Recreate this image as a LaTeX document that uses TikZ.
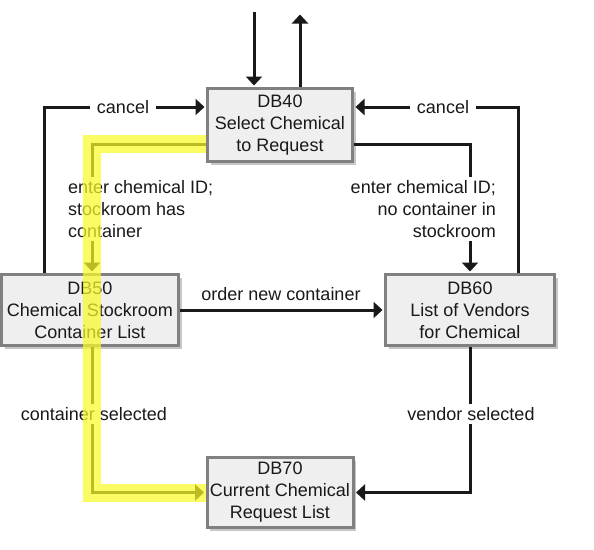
\documentclass[tikz,border=0pt]{standalone}
\usepackage{fontspec}
\setmainfont{Liberation Sans}
\usetikzlibrary{arrows.meta,shadows}
\definecolor{boxgray}{RGB}{128,128,128}
\definecolor{boxfill}{RGB}{239,239,239}
\definecolor{inkblack}{RGB}{25,25,25}
\definecolor{marker}{RGB}{250,250,40}

\begin{document}
\begin{tikzpicture}[x=1pt,y=-1pt,font=\fontsize{18}{22}\selectfont,
	dbbox/.style={draw=boxgray, line width=3pt, fill=boxfill, align=center, inner sep=0pt, text=inkblack,
		drop shadow={shadow xshift=3pt, shadow yshift=-3pt, fill=black!22, opacity=1}},
	flow/.style={draw=inkblack, line width=3pt, shorten >=1.5pt, -{Triangle[length=9pt,width=16pt]}},
	lbl/.style={fill=white, text=inkblack, inner sep=3pt},
	highlight/.style={draw=marker, line width=18pt, opacity=0.72}]
					\useasboundingbox (0,0) rectangle (594,549);
					% screens
					\node[dbbox, minimum width=145pt, minimum height=73pt] (db40) at (280,125) {DB40\\Select Chemical\\to Request};
					\node[dbbox, minimum width=177pt, minimum height=71pt] (db50) at (90,310) {DB50\\Chemical Stockroom\\Container List};
					\node[dbbox, minimum width=169pt, minimum height=71pt] (db60) at (470,310) {DB60\\List of Vendors\\for Chemical};
					\node[dbbox, minimum width=146pt, minimum height=70pt] (db70) at (280,492.5) {DB70\\Current Chemical\\Request List};
					% helper points
					\coordinate (topin) at (254,12);
					\coordinate (topout) at (300,13);
					\coordinate (cancel) at (0,107);
					\coordinate (exit) at (0,144);
					\coordinate (leftx) at (44,0);
					\coordinate (rightx) at (518,0);
					\coordinate (pathx) at (92,0);
					% arrows
					\draw [flow] (topin) -- (topin |- db40.north) ;
					\draw [flow] (topout |- db40.north) -- (topout) ;
					\draw [flow] (leftx |- db50.north) |- (db40.west |- cancel) ;
					\draw [flow] (rightx |- db60.north) |- (db40.east |- cancel) ;
					\draw [flow] (db40.west |- exit) -| (pathx |- db50.north) ;
					\draw [flow] (db40.east |- exit) -| (db60.north) ;
					\draw [flow] (db50.east) -- (db60.west) ;
					\draw [flow] (pathx |- db50.south) |- (db70.west) ;
					\draw [flow] (db60.south) |- (db70.east) ;
					% lables
					\node[lbl, inner xsep=7pt] (cancelL) at (123,107) {cancel} ;
					\node[lbl, inner xsep=7pt] (cancelR) at (443,107) {cancel} ;
					\node[lbl, anchor=west, align=left] (enterL) at (65,209) {enter chemical ID;\\stockroom has\\container} ;
					\node[lbl, anchor=east, align=right] (enterR) at (499,209) {enter chemical ID;\\no container in\\stockroom} ;
					\node[text=inkblack] (order) at (281,294) {order new container} ;
					\node[lbl] (contsel) at (94,414) {container selected} ;
					\node[lbl] (vendsel) at (471,414) {vendor selected} ;
					% highlighted path
					\draw [highlight] (db40.west |- exit) -| (pathx |- db70.west) -- (db70.west) ;

				\end{tikzpicture}
\end{document}
